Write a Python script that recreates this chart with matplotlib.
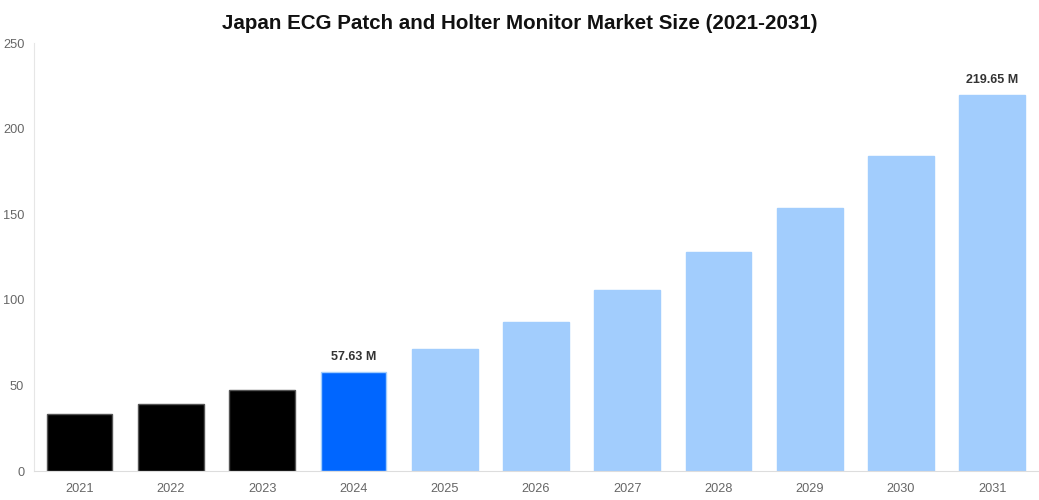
import matplotlib
matplotlib.use("Agg")
import matplotlib.pyplot as plt

plt.rcParams['font.family'] = ['Liberation Sans', 'DejaVu Sans']

years = ['2021', '2022', '2023', '2024', '2025', '2026', '2027', '2028', '2029', '2030', '2031']
values = [33.3, 39.1, 47.3, 57.63, 71.3, 87.0, 105.7, 127.9, 153.6, 184.0, 219.65]
colors = ['#000000'] * 3 + ['#0066ff'] + ['#a2cdfd'] * 7
edges = ['#555555'] * 3 + ['#a2cdfd'] * 8
labels = {3: '57.63 M', 10: '219.65 M'}


def main():
    fig = plt.figure(figsize=(10.39, 5), dpi=100)
    ax = fig.add_axes([0.0327, 0.058, 0.9663, 0.856])

    x = range(len(years))
    ax.bar(x, values, width=0.72, color=colors, edgecolor=edges, linewidth=1)

    for i, txt in labels.items():
        ax.annotate(txt, (i, values[i]), xytext=(0, 6.5), textcoords='offset points',
                    ha='center', va='bottom', fontsize=9, fontweight='bold', color='#333333')

    ax.set_xlim(-0.5, len(years) - 0.5)
    ax.set_ylim(0, 250)
    ax.set_yticks([0, 50, 100, 150, 200, 250])
    ax.set_xticks(list(x))
    ax.set_xticklabels(years)
    ax.tick_params(axis='both', length=0, labelsize=9.2, colors='#666666')
    ax.tick_params(axis='y', pad=7)
    ax.tick_params(axis='x', pad=9)

    for s in ['top', 'right']:
        ax.spines[s].set_visible(False)
    ax.spines['left'].set_color('#e6e6e6')
    ax.spines['bottom'].set_color('#dddddd')

    fig.suptitle('Japan ECG Patch and Holter Monitor Market Size (2021-2031)',
                 x=0.5, y=0.972, fontsize=14.8, fontweight='bold', color='#111111')

    fig.savefig('out.png', dpi=100)


if __name__ == "__main__":
    main()
